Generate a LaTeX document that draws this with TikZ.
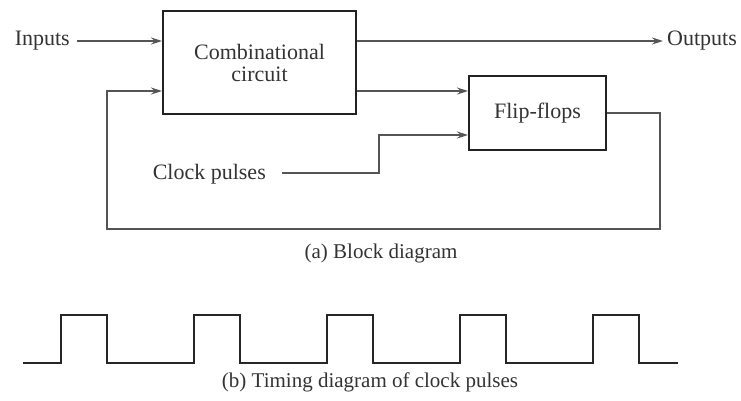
\documentclass[tikz,border=0pt]{standalone}
\usepackage{fontspec}
\setmainfont{Liberation Serif}
\usetikzlibrary{arrows.meta}
\definecolor{boxcol}{HTML}{222222}
\definecolor{linecol}{HTML}{555555}
\definecolor{txtcol}{HTML}{333333}
\tikzset{
  blockbox/.style={draw=boxcol, line width=2pt, rectangle, inner sep=0pt, align=center,
    text=txtcol, font=\fontsize{22}{25}\selectfont},
  lbl/.style={inner sep=0pt, text=txtcol, font=\fontsize{22}{25}\selectfont},
  captext/.style={inner sep=0pt, text=txtcol, font=\fontsize{21}{24}\selectfont},
  wire/.style={draw=linecol, line width=1.3pt},
  arr/.style={wire, -{Stealth[length=11pt, width=7pt]}},
  wave/.style={draw=black!85, line width=2.6pt, line join=miter}
}
\begin{document}
\begin{tikzpicture}[x=1pt,y=-1pt]
\useasboundingbox (0,0) rectangle (741,400);
\fill[white] (0,0) rectangle (741,400);

\node[blockbox, minimum width=193pt, minimum height=103pt] (comb) at (259.5,62.5) {Combinational\\[-3pt]circuit};
\node[blockbox, minimum width=137pt, minimum height=74pt] (ff) at (537.5,113) {Flip-flops};

\node[lbl, anchor=east] (inputs) at (70,41) {Inputs};
\node[lbl, anchor=west] (outputs) at (667,41) {Outputs};
\node[lbl, anchor=east] (clock) at (266,174) {Clock pulses};

\coordinate (inA) at (77,41);
\coordinate (fbR) at (660,113);
\coordinate (fbRB) at (660,229);
\coordinate (fbLB) at (107,229);
\coordinate (fbLT) at (107,91);
\coordinate (clkS) at (282,173);
\coordinate (clkB) at (379,173);
\coordinate (clkT) at (379,135);

\draw[arr] (inA) -- (comb.west |- inA);
\draw[arr] (comb.east |- inA) -- ([xshift=-4pt]outputs.west);
\draw[arr] (comb.east |- fbLT) -- (ff.west |- fbLT);
\draw[arr] (clkS) -- (clkB) -- (clkT) -- (ff.west |- clkT);
\draw[arr] (ff.east |- fbR) -- (fbR) -- (fbRB) -- (fbLB) -- (fbLT) -- (comb.west |- fbLT);

\node[captext] (capa) at (381,253) {(a) Block diagram};

\draw[wave] (23,363) -- (61,363) -- (61,315) -- (107,315) -- (107,363)
  -- (194,363) -- (194,315) -- (240,315) -- (240,363)
  -- (327,363) -- (327,315) -- (373,315) -- (373,363)
  -- (460,363) -- (460,315) -- (506,315) -- (506,363)
  -- (593,363) -- (593,315) -- (639,315) -- (639,363) -- (678,363);

\node[captext] (capb) at (370,382) {(b) Timing diagram of clock pulses};
\end{tikzpicture}
\end{document}
